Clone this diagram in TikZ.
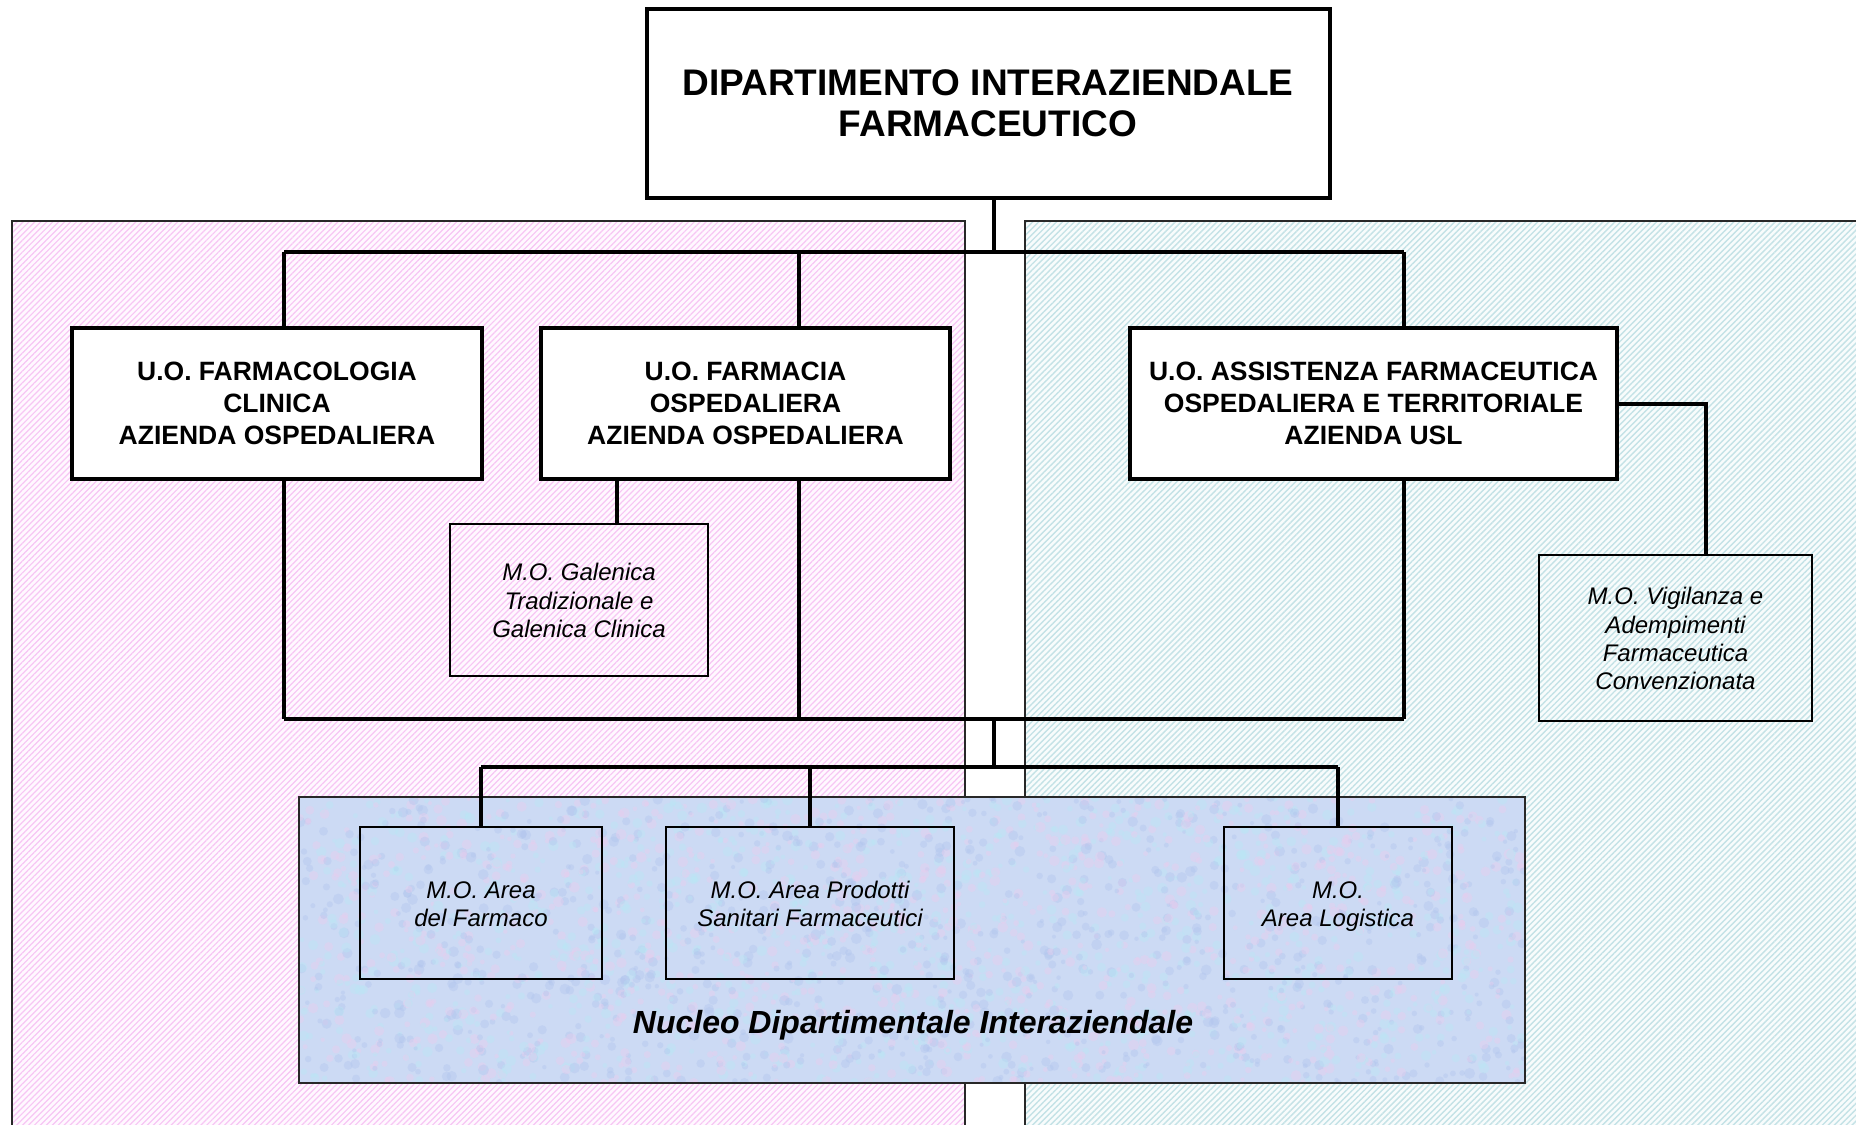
\documentclass[tikz,border=0pt]{standalone}
\usepackage{fontspec}
\setmainfont{Liberation Sans}
\usetikzlibrary{patterns.meta}
\definecolor{pinkline}{RGB}{247,198,244}
\definecolor{pinkbg}{RGB}{255,248,255}
\definecolor{cyanline}{RGB}{196,226,230}
\definecolor{cyanbg}{RGB}{248,252,252}
\definecolor{nucbase}{RGB}{204,218,244}
\definecolor{nucpink}{RGB}{236,204,238}
\definecolor{nuccyan}{RGB}{184,232,244}
\definecolor{nucblue}{RGB}{176,196,238}
\definecolor{regborder}{RGB}{40,40,40}
\newcommand{\hightop}{\rule{0pt}{13.6pt}}
\begin{document}
\begin{tikzpicture}[x=0.5pt,y=-0.5pt,
  bigbox/.style={draw, line width=2pt, fill=white, inner sep=0pt, align=center},
  smallbox/.style={draw, line width=1.4pt, inner sep=0pt, align=center,
     font=\fontsize{12}{14.2}\selectfont\itshape},
  uofont/.style={font=\fontsize{13.25}{16}\selectfont\bfseries},
  conn/.style={line width=2pt},
  thinconn/.style={line width=1.6pt},
  region/.style={draw=regborder, line width=0.8pt}]
\clip (0,0) rectangle (1856,1124);
\fill[white] (0,0) rectangle (1856,1124);
% regions
\fill[pinkbg] (12,221) rectangle (965,1140);
\fill[pattern={Lines[angle=45,distance=2.1pt,line width=0.6pt]}, pattern color=pinkline] (12,221) rectangle (965,1140);
\draw[region] (12,221) rectangle (965,1140);
\fill[cyanbg] (1025,221) rectangle (1870,1140);
\fill[pattern={Lines[angle=45,distance=2.1pt,line width=0.7pt]}, pattern color=cyanline] (1025,221) rectangle (1870,1140);
\draw[region] (1025,221) rectangle (1870,1140);
% nucleo texture
\begin{scope}
\clip (299,797) rectangle (1525,1083);
\fill[nucbase] (299,797) rectangle (1525,1083);
\pgfmathsetseed{7}
\foreach \i in {1,...,3000}{
  \pgfmathsetmacro\xx{299+1226*rnd}
  \pgfmathsetmacro\yy{797+286*rnd}
  \pgfmathsetmacro\rr{2+3.5*rnd}
  \pgfmathtruncatemacro\cc{3*rnd}
  \ifcase\cc \def\col{nucpink}\or\def\col{nuccyan}\else\def\col{nucblue}\fi
  \fill[\col, opacity=0.38] (\xx,\yy) circle[radius=\rr];
}
\end{scope}
\draw[region, line width=1.2pt] (299,797) rectangle (1525,1083);
% nodes
\node[bigbox, minimum width=341.5pt, minimum height=94.5pt,
  font=\fontsize{18.5}{20.5}\selectfont\bfseries] (top) at (988,103.5)
  {DIPARTIMENTO INTERAZIENDALE\\FARMACEUTICO};
\node[bigbox, uofont, minimum width=205pt, minimum height=75.5pt] (b1) at (277,403.5)
  {U.O. FARMACOLOGIA\\CLINICA\\AZIENDA OSPEDALIERA};
\node[bigbox, uofont, minimum width=204.5pt, minimum height=75.5pt] (b2) at (745.5,403.5)
  {U.O. FARMACIA\\OSPEDALIERA\\AZIENDA OSPEDALIERA};
\node[bigbox, uofont, minimum width=243.5pt, minimum height=75.5pt] (b3) at (1373.5,403.5)
  {U.O. ASSISTENZA FARMACEUTICA\\OSPEDALIERA E TERRITORIALE\\AZIENDA USL};
\node[smallbox, minimum width=129pt, minimum height=76pt] (gal) at (579,600)
  {\hightop M.O. Galenica\\Tradizionale e\\Galenica Clinica\strut};
\node[smallbox, minimum width=136.5pt, minimum height=83pt] (vig) at (1675.5,638)
  {\hightop M.O. Vigilanza e\\Adempimenti\\Farmaceutica\\Convenzionata\strut};
\node[smallbox, minimum width=121pt, minimum height=76pt] (a1) at (481,903)
  {\hightop M.O. Area\\del Farmaco\strut};
\node[smallbox, minimum width=144pt, minimum height=76pt] (a2) at (810,903)
  {\hightop M.O. Area Prodotti\\Sanitari Farmaceutici\strut};
\node[smallbox, minimum width=114pt, minimum height=76pt] (a3) at (1338,903)
  {\hightop M.O.\\Area Logistica\strut};
\node[font=\fontsize{16}{19}\selectfont\bfseries\itshape] (nuc) at (913,1025)
  {Nucleo Dipartimentale Interaziendale};
% bus coordinates
\coordinate (j1) at (994,252);
\coordinate (t1) at (284,252);
\coordinate (t2) at (799,252);
\coordinate (t3) at (1404,252);
\coordinate (l1) at (284,719);
\coordinate (l2) at (799,719);
\coordinate (l3) at (1404,719);
\coordinate (jc) at (994,719);
\coordinate (jd) at (994,767);
\coordinate (vk) at (1706,404);
\coordinate (gk) at (617,0);
% connectors
\draw[conn] (top.south -| j1) -- (j1);
\draw[conn] (t1) -- (t3);
\draw[conn] (t1) -- (b1.north -| t1);
\draw[conn] (t2) -- (b2.north -| t2);
\draw[conn] (t3) -- (b3.north -| t3);
\draw[conn] (b1.south -| l1) -- (l1);
\draw[conn] (b2.south -| l2) -- (l2);
\draw[conn] (b3.south -| l3) -- (l3);
\draw[conn] (l1) -- (l3);
\draw[conn] (jc) -- (jd);
\draw[thinconn] (jd -| a1.north) -- (jd -| a3.north);
\draw[conn] (jd -| a1.north) -- (a1.north);
\draw[conn] (jd -| a2.north) -- (a2.north);
\draw[conn] (jd -| a3.north) -- (a3.north);
\draw[conn] (b2.south -| gk) -- (gal.north -| gk);
\draw[conn] (b3.east |- vk) -- (vk) -- (vig.north -| vk);
\end{tikzpicture}
\end{document}
